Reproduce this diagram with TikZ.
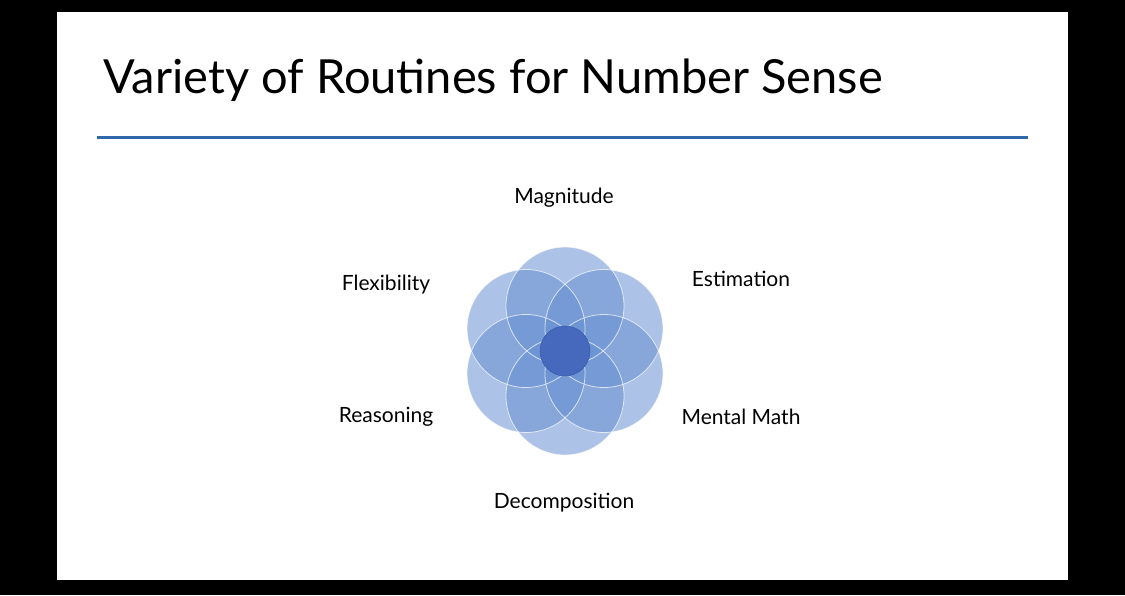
\documentclass[tikz,border=0pt]{standalone}
\usepackage{fontspec}
\setmainfont{Lato}
\usetikzlibrary{calc}
\begin{document}
\begin{tikzpicture}[x=1pt,y=-1pt,
  petal/.style={fill={rgb,255:red,105;green,145;blue,210},fill opacity=0.55},
  lbl/.style={font=\fontsize{21}{25}\selectfont,text=black}]
\fill[black] (0,0) rectangle (1125,595);
\fill[white] (57,12) rectangle (1068,580);
\node[anchor=west,font=\fontsize{47}{56}\selectfont] (title) at (100,80) {Variety of Routines for Number Sense};
\draw[line width=3pt,color={rgb,255:red,46;green,104;blue,170}] (97,137) -- (1028,137);
\coordinate (c) at (565,351);
\foreach \a in {90,30,-30,-90,-150,150}{
  \fill[petal] ($(c)+(\a:45)$) circle (59);
}
\foreach \a in {90,30,-30,-90,-150,150}{
  \draw[white,opacity=0.7,line width=0.8pt] ($(c)+(\a:45)$) circle (59);
}
\node[circle,minimum size=50,inner sep=0,fill={rgb,255:red,70;green,105;blue,190},draw={rgb,255:red,50;green,85;blue,165}] (core) at (c) {};
\node[lbl] (m) at (564,198) {Magnitude};
\node[lbl] (e) at (741,279) {Estimation};
\node[lbl] (f) at (386,285) {Flexibility};
\node[lbl] (r) at (386,417) {Reasoning};
\node[lbl] (mm) at (741,417) {Mental Math};
\node[lbl] (d) at (564,503) {Decomposition};
\end{tikzpicture}
\end{document}
